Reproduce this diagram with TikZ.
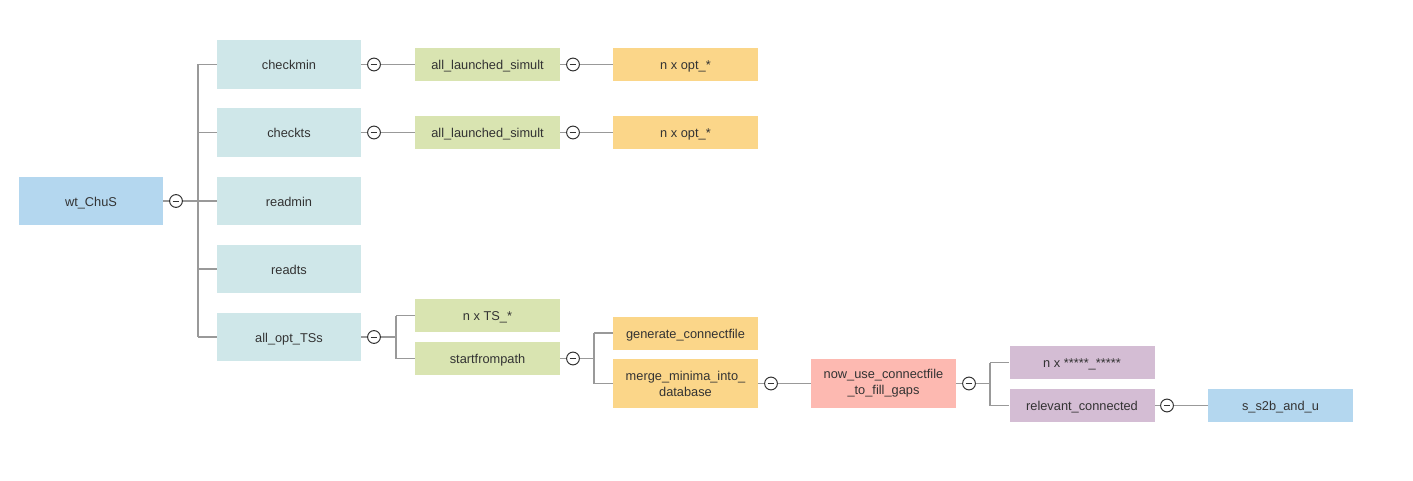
\documentclass[tikz,border=0pt]{standalone}
\usepackage{fontspec}
\setmainfont{Liberation Sans}
\definecolor{cblue}{HTML}{B4D7EF}
\definecolor{cteal}{HTML}{CFE7E9}
\definecolor{cgreen}{HTML}{D9E4B1}
\definecolor{corange}{HTML}{FBD689}
\definecolor{csalmon}{HTML}{FDB9B1}
\definecolor{cpurple}{HTML}{D4BDD4}
\definecolor{ctext}{HTML}{333333}
\definecolor{cline}{HTML}{999999}
\tikzset{
  box/.style={rectangle, inner sep=0pt, text=ctext, font=\fontsize{9.6pt}{12pt}\selectfont, align=center},
  one/.style={text height=9.6pt, text depth=1.8pt},
  big/.style={box, one, minimum width=108pt, minimum height=36.5pt},
  small/.style={box, one, minimum width=108.75pt, minimum height=24.75pt},
  tall/.style={box, minimum width=108.75pt, minimum height=36.75pt},
  tog/.style={circle, draw=ctext, line width=0.75pt, fill=white, minimum size=9.6pt, inner sep=0pt,
    path picture={\draw[ctext, line width=0.75pt] ([xshift=-2.6pt]path picture bounding box.center) -- ([xshift=2.6pt]path picture bounding box.center);}},
  conn/.style={draw=cline, line width=1.2pt},
}
\begin{document}
\begin{tikzpicture}[x=0.75pt, y=-0.75pt]
\useasboundingbox (0,0) rectangle (1413,481);
% nodes
\node[big, fill=cblue] (root) at (91,201) {wt\_ChuS};
\node[big, fill=cteal] (checkmin) at (289,64.5) {checkmin};
\node[big, fill=cteal] (checkts) at (289,132.5) {checkts};
\node[big, fill=cteal] (readmin) at (289,201) {readmin};
\node[big, fill=cteal] (readts) at (289,269) {readts};
\node[big, fill=cteal] (allopt) at (289,337) {all\_opt\_TSs};
\node[small, fill=cgreen] (als1) at (487.5,64.5) {all\_launched\_simult};
\node[small, fill=cgreen] (als2) at (487.5,132.5) {all\_launched\_simult};
\node[small, fill=corange] (nopt1) at (685.5,64.5) {n x opt\_*};
\node[small, fill=corange] (nopt2) at (685.5,132.5) {n x opt\_*};
\node[small, fill=cgreen] (nts) at (487.5,315.5) {n x TS\_*};
\node[small, fill=cgreen] (sfp) at (487.5,358.5) {startfrompath};
\node[small, fill=corange] (gen) at (685.5,333) {generate\_connectfile};
\node[tall, fill=corange] (merge) at (685.5,383.5) {merge\_minima\_into\_\\database};
\node[tall, fill=csalmon] (nowuse) at (883.5,383.5) {now\_use\_connectfile\\\_to\_fill\_gaps};
\node[small, fill=cpurple] (nxs) at (1082,362.5) {n x *****\_*****};
\node[small, fill=cpurple] (rel) at (1082,405.5) {relevant\_connected};
\node[small, fill=cblue] (s2b) at (1280.5,405.5) {s\_s2b\_and\_u};
% toggles
\node[tog] (t0) at (176,201) {};
\node[tog] (t1) at (374,64.5) {};
\node[tog] (t2) at (374,132.5) {};
\node[tog] (t3) at (573,64.5) {};
\node[tog] (t4) at (573,132.5) {};
\node[tog] (t5) at (374,337) {};
\node[tog] (t6) at (573,358.5) {};
\node[tog] (t7) at (771,383.5) {};
\node[tog] (t8) at (969,383.5) {};
\node[tog] (t9) at (1167,405.5) {};
% branch points
\coordinate (b0) at (198,201);
\coordinate (b5) at (396,337);
\coordinate (b6) at (594,358.5);
\coordinate (b8) at (990,383.5);
% connectors
\path[conn] (root) -- (t0) (t0) -- (b0);
\path[conn] (b0 |- checkmin.west) -- (b0 |- allopt.west);
\foreach \n in {checkmin,checkts,readmin,readts,allopt}
  \path[conn] (b0 |- \n.west) -- (\n.west);
\path[conn] (checkmin) -- (t1) (t1) -- (als1) (als1) -- (t3) (t3) -- (nopt1);
\path[conn] (checkts) -- (t2) (t2) -- (als2) (als2) -- (t4) (t4) -- (nopt2);
\path[conn] (allopt) -- (t5) (t5) -- (b5);
\path[conn] (b5 |- nts.west) -- (b5 |- sfp.west);
\path[conn] (b5 |- nts.west) -- (nts.west) (b5 |- sfp.west) -- (sfp.west);
\path[conn] (sfp) -- (t6) (t6) -- (b6);
\path[conn] (b6 |- gen.west) -- (b6 |- merge.west);
\path[conn] (b6 |- gen.west) -- (gen.west) (b6 |- merge.west) -- (merge.west);
\path[conn] (merge) -- (t7) (t7) -- (nowuse);
\path[conn] (nowuse) -- (t8) (t8) -- (b8);
\path[conn] (b8 |- nxs.west) -- (b8 |- rel.west);
\path[conn] (b8 |- nxs.west) -- (nxs.west) (b8 |- rel.west) -- (rel.west);
\path[conn] (rel) -- (t9) (t9) -- (s2b);
\end{tikzpicture}
\end{document}
